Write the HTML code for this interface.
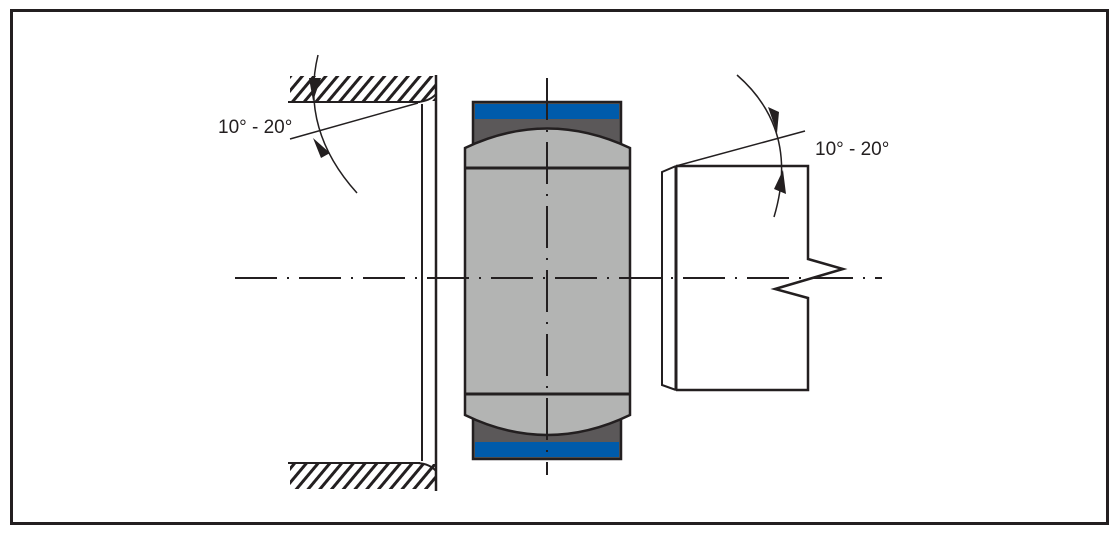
<!DOCTYPE html>
<html><head><style>
html,body{margin:0;padding:0;background:#fff;}
svg{display:block;}
text{font-family:"Liberation Sans",sans-serif;font-size:19px;fill:#231f20;}
</style></head><body>
<svg width="1119" height="534" viewBox="0 0 1119 534" xmlns="http://www.w3.org/2000/svg">
<defs>
<pattern id="h" width="9" height="9" patternUnits="userSpaceOnUse" patternTransform="rotate(40)">
<rect width="9" height="9" fill="#fff"/><rect x="0" y="0" width="3" height="9" fill="#231f20"/>
</pattern>
<clipPath id="c1"><rect x="290" y="76" width="146" height="25"/></clipPath>
<clipPath id="c2"><rect x="290" y="464" width="146" height="25"/></clipPath>
</defs>
<rect x="11.5" y="10.5" width="1096" height="513" fill="#fff" stroke="#231f20" stroke-width="3"/>
<g stroke="#231f20" fill="none">
<!-- housing -->
<rect x="290" y="76" width="146" height="25" fill="url(#h)" stroke="none" clip-path="url(#c1)"/>
<rect x="290" y="464" width="146" height="25" fill="url(#h)" stroke="none" clip-path="url(#c2)"/>
<line x1="288" y1="102" x2="420" y2="102" stroke-width="2"/>
<line x1="288" y1="463" x2="420" y2="463" stroke-width="2"/>
<line x1="436" y1="75" x2="436" y2="491" stroke-width="2.5"/>
<line x1="422" y1="104" x2="422" y2="461" stroke-width="2"/>
<path d="M418 102 Q430 101 436 94" stroke-width="2"/>
<path d="M418 463 Q430 464 436 471" stroke-width="2"/>
<!-- bearing outer ring -->
<rect x="473" y="102" width="148" height="357" fill="#5b5859" stroke-width="2.5"/>
<rect x="475" y="104" width="144" height="15" fill="#005bab" stroke="none"/>
<rect x="475" y="442" width="144" height="15" fill="#005bab" stroke="none"/>
<path d="M465 148 Q547 109 630 148 L630 415 Q547 455 465 415 Z" fill="#b3b4b3" stroke-width="2.5"/>
<line x1="465" y1="168" x2="630" y2="168" stroke-width="3"/>
<line x1="465" y1="394" x2="630" y2="394" stroke-width="3"/>
<!-- shaft -->
<path d="M676 166 L808 166 L808 259 L843 269 L775 289 L808 298 L808 390 L676 390" stroke-width="2.5"/>
<line x1="676" y1="166" x2="676" y2="390" stroke-width="3"/>
<path d="M676 166 L662 172 L662 385 L676 390" stroke-width="2"/>
<!-- centerlines -->
<line x1="235" y1="278" x2="882" y2="278" stroke-width="2" stroke-dasharray="42,10,2,10"/>
<line x1="547" y1="78" x2="547" y2="475" stroke-width="2" stroke-dasharray="42,10,2,10"/>
<!-- angle left -->
<line x1="418" y1="103" x2="290" y2="139" stroke-width="1.5"/>
<path d="M318 55 Q300 130 357 193" stroke-width="1.5"/>
<!-- angle right -->
<line x1="676" y1="166" x2="805" y2="131" stroke-width="1.5"/>
<path d="M737 75 Q800 130 774 217" stroke-width="1.5"/>
</g>
<g fill="#231f20">
<polygon points="309,78 321,78 313,101"/>
<polygon points="313,138 321,158 330,153"/>
<polygon points="768,107 779,112 777,133"/>
<polygon points="783,170 786,194 774,189"/>
</g>
<text x="218" y="133">10° - 20°</text>
<text x="815" y="155">10° - 20°</text>
</svg>
</body></html>
